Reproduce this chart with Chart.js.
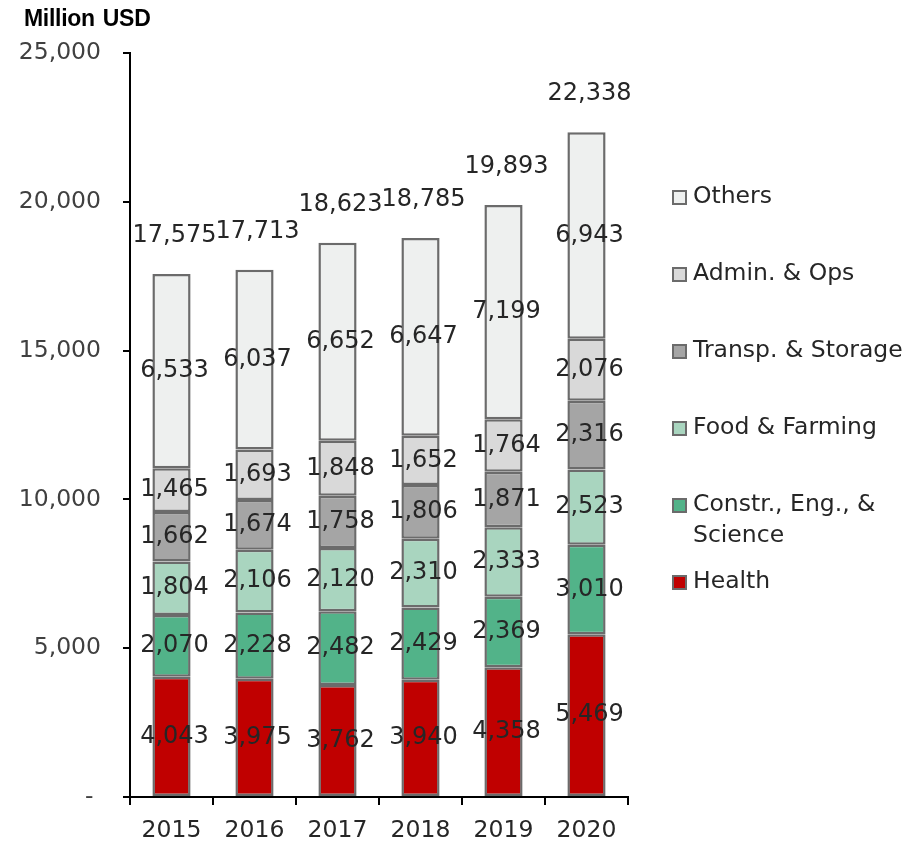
<!DOCTYPE html>
<html>
<head>
<meta charset="utf-8">
<script src="https://cdn.jsdelivr.net/npm/chart.js@4.4.0/dist/chart.umd.min.js"></script>
<style>
  body { margin: 0; background: #fff; }
  #wrap { position: relative; width: 910px; height: 844px; }
  #title { position: absolute; left: 24px; top: 5px; font: bold 23px "Liberation Sans", Arial, sans-serif; color: #000; letter-spacing: -0.3px; word-spacing: 2px; }
  #legend { position: absolute; left: 672px; top: 184px; width: 238px; font: 23.5px "DejaVu Sans", sans-serif; color: #262626; }
  .item { position: relative; height: 77px; }
  .box { position: absolute; left: 0; top: 6px; width: 11px; height: 11px; border: 2px solid #6b6b6b; }
  .txt { position: absolute; left: 21px; top: 0; width: 217px; line-height: 31px; margin-top: -4px; }
</style>
</head>
<body>
<div id="wrap">
  <canvas id="myChart" width="910" height="844"></canvas>
  <div id="title">Million USD</div>
  <div id="legend"></div>
</div>
<script>
var years = ['2015', '2016', '2017', '2018', '2019', '2020'];
var series_names = ['Health', 'Constr., Eng., & Science', 'Food & Farming', 'Transp. & Storage', 'Admin. & Ops', 'Others'];
var health = [4043, 3975, 3762, 3940, 4358, 5469];
var constr = [2070, 2228, 2482, 2429, 2369, 3010];
var food = [1804, 2106, 2120, 2310, 2333, 2523];
var transp = [1662, 1674, 1758, 1806, 1871, 2316];
var admin = [1465, 1693, 1848, 1652, 1764, 2076];
var others = [6533, 6037, 6652, 6647, 7199, 6943];
var totals = [17575, 17713, 18623, 18785, 19893, 22338];
var y_ticks = [0, 5000, 10000, 15000, 20000, 25000];

var colors = ['#C00000', '#52B389', '#A9D5BF', '#A5A5A5', '#D9D9D9', '#EEF0EF'];
var all_values = [health, constr, food, transp, admin, others];

function fmt(v) {
    if (v === 0) return '- ';
    return v.toLocaleString('en-US');
}

// labels inside the segments + totals on top
const segLabels = {
    id: 'segLabels',
    afterDatasetsDraw(chart) {
        const c = chart.ctx;
        c.save();
        c.font = '24px "DejaVu Sans"';
        c.fillStyle = '#262626';
        c.textAlign = 'center';
        c.textBaseline = 'middle';
        chart.data.datasets.forEach(function (ds, i) {
            chart.getDatasetMeta(i).data.forEach(function (bar, j) {
                c.fillText(fmt(ds.data[j]), bar.x + 3, (bar.y + bar.base) / 2);
            });
        });
        var topMeta = chart.getDatasetMeta(chart.data.datasets.length - 1);
        topMeta.data.forEach(function (bar, j) {
            c.fillText(fmt(totals[j]), bar.x + 3, bar.y - 38);
        });
        c.restore();
    }
};

const ctx = document.getElementById('myChart').getContext('2d');
var myChart = new Chart(ctx, {
    type: 'bar',
    data: {
        labels: years,
        datasets: series_names.map(function (name, i) {
            return {
                label: name,
                data: all_values[i],
                backgroundColor: colors[i],
                borderColor: '#6b6b6b',
                borderWidth: 2.5,
                borderSkipped: false,
                barPercentage: 0.46,
                categoryPercentage: 1
            };
        })
    },
    options: {
        responsive: false,
        animation: false,
        layout: { padding: { top: 53, right: 282, left: 0, bottom: 0 } },
        plugins: {
            legend: { display: false },
            tooltip: { enabled: false }
        },
        scales: {
            x: {
                stacked: true,
                afterFit: function (s) { s.height = 47; },
                border: { color: '#000', width: 2 },
                grid: { drawOnChartArea: false, color: '#000', tickLength: 8, lineWidth: 2 },
                ticks: { color: '#262626', font: { family: 'DejaVu Sans', size: 23.5 }, padding: 12 }
            },
            y: {
                stacked: true,
                min: 0,
                max: 25000,
                afterFit: function (s) { s.width = 130; },
                afterBuildTicks: function (s) { s.ticks = y_ticks.map(function (v) { return { value: v }; }); },
                border: { color: '#000', width: 2 },
                grid: { drawOnChartArea: false, color: '#000', tickLength: 7, lineWidth: 2 },
                ticks: {
                    color: '#404040',
                    font: { family: 'DejaVu Sans', size: 23.5 },
                    padding: 22,
                    callback: function (v) { return fmt(v); }
                }
            }
        }
    },
    plugins: [segLabels]
});

// legend, reversed like the original
var lg = document.getElementById('legend');
for (var i = series_names.length - 1; i >= 0; i--) {
    var item = document.createElement('div');
    item.className = 'item';
    item.innerHTML = '<div class="box" style="background:' + colors[i] + '"></div><div class="txt">' +
        series_names[i].replace(/&/g, '&amp;') + '</div>';
    lg.appendChild(item);
}
</script>
</body>
</html>
